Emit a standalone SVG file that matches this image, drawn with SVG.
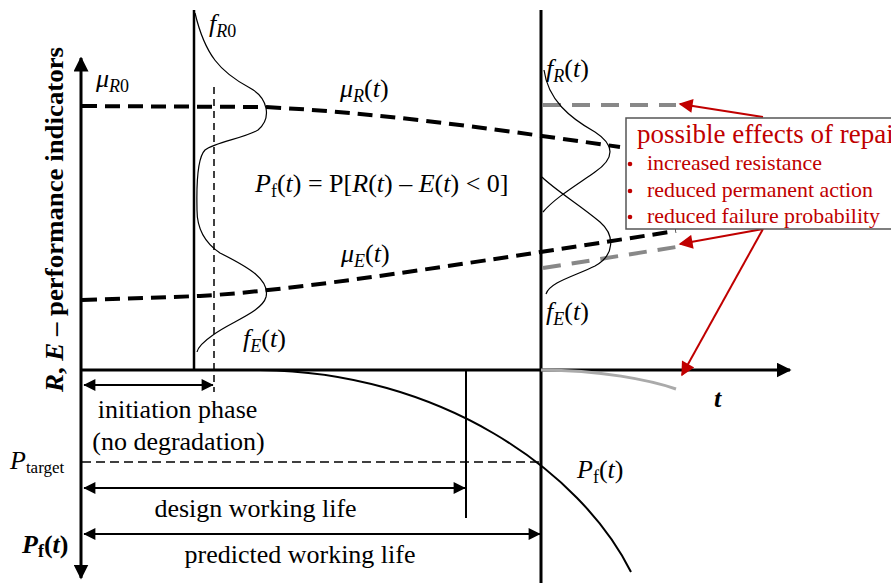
<svg xmlns="http://www.w3.org/2000/svg" width="891" height="583" viewBox="0 0 891 583" font-family="'Liberation Serif', 'DejaVu Serif', serif">
<style>
text{font-family:'Liberation Serif','DejaVu Serif',serif;fill:#000}
.lbl{font-size:26px}
.it{font-style:italic}
.sub{font-size:18px}
.red{fill:#c00000}
.ax{stroke:#000;stroke-width:3;fill:none}
.thin{stroke:#000;stroke-width:1.2;fill:none}
.dash{stroke:#000;stroke-width:4;fill:none;stroke-dasharray:15 8}
.gdash{stroke:#888;stroke-width:4;fill:none;stroke-dasharray:18 11}
.rarr{stroke:#c00000;stroke-width:2;fill:none}
.dim{stroke:#000;stroke-width:2;fill:none}
.item{font-size:22px}
</style>
<defs>
<marker id="ah" viewBox="0 0 10 10" refX="9" refY="5" markerWidth="5" markerHeight="5" orient="auto-start-reverse" markerUnits="strokeWidth"><path d="M0,0L10,5L0,10z" fill="#000"/></marker>
<marker id="dh" viewBox="0 0 10 10" refX="9.5" refY="5" markerWidth="7" markerHeight="6" orient="auto-start-reverse" markerUnits="strokeWidth"><path d="M0,0L10,5L0,10z" fill="#000"/></marker>
<marker id="rh" viewBox="0 0 10 10" refX="9" refY="5" markerWidth="8" markerHeight="7" orient="auto" markerUnits="strokeWidth"><path d="M0,0L10,5L0,10z" fill="#c00000"/></marker>
</defs>

<g id="axes">
<line class="ax" x1="81" y1="370" x2="81" y2="58" marker-end="url(#ah)"/>
<line class="ax" x1="81" y1="370" x2="81" y2="578" marker-end="url(#ah)"/>
<line class="ax" x1="80" y1="370" x2="790" y2="370" marker-end="url(#ah)"/>
<line class="ax" x1="194" y1="10" x2="194" y2="370" style="stroke-width:2.5"/>
<line class="ax" x1="541" y1="10" x2="541" y2="583"/>
<line class="dim" x1="466" y1="370" x2="466" y2="518"/>
<line class="thin" x1="214" y1="87" x2="214" y2="392" style="stroke-dasharray:7 5;stroke-width:1.5"/>
</g>

<g id="connectors">
<path class="dash" d="M82,106 L265,107 C380,113 480,127 620,147"/>
<path class="dash" d="M82,300 L200,296 C300,290 450,266 676,231"/>
<path class="gdash" d="M543,105 L676,105"/>
<path class="gdash" d="M543,268 L676,247"/>
<path d="M541,370 C600,370 650,380 676,389" stroke="#aaa" stroke-width="3" fill="none"/>
<path class="dim" d="M260,370 C440,372 580,470 631,572"/>
<line x1="82" y1="462" x2="541" y2="462" stroke="#000" stroke-width="1.5" stroke-dasharray="9 5"/>
<line class="dim" x1="84" y1="385" x2="213" y2="385" marker-start="url(#dh)" marker-end="url(#dh)"/>
<line class="dim" x1="84" y1="488" x2="465" y2="488" marker-start="url(#dh)" marker-end="url(#dh)"/>
<line class="dim" x1="84" y1="534" x2="540" y2="534" marker-start="url(#dh)" marker-end="url(#dh)"/>
<line class="rarr" x1="763" y1="117" x2="680" y2="104" marker-end="url(#rh)"/>
<line class="rarr" x1="763" y1="229" x2="680" y2="244" marker-end="url(#rh)"/>
<line class="rarr" x1="763" y1="229" x2="682" y2="375" marker-end="url(#rh)"/>
</g>

<g id="distributions">
<path class="thin" d="M195,13 C205,55 220,72 250,88 C268,98 272,118 258,130 C245,138 215,142 205,150 C195,160 197,200 197,210 C197,230 205,243 220,253 C250,268 270,280 266,297 C262,312 230,322 213,335 C203,342 198,347 197,352"/>
<path class="thin" d="M544,70 C548,100 570,118 595,132 C615,145 615,158 595,172 C575,186 555,198 543,212"/>
<path class="thin" d="M542,177 C555,190 580,205 600,222 C615,235 615,255 595,266 C575,276 550,282 546,294"/>
</g>

<g id="repair-box">
<rect x="626" y="118" width="280" height="111" fill="#fff" stroke="#555" stroke-width="1.5"/>
<text x="637" y="143" class="red" style="font-size:27px">possible effects of repair</text>
<circle cx="630" cy="164" r="2.3" fill="#c00000"/>
<circle cx="630" cy="191" r="2.3" fill="#c00000"/>
<circle cx="630" cy="217" r="2.3" fill="#c00000"/>
<text x="647" y="170" class="red item" textLength="175" lengthAdjust="spacingAndGlyphs">increased resistance</text>
<text x="647" y="197" class="red item" textLength="226" lengthAdjust="spacingAndGlyphs">reduced permanent action</text>
<text x="647" y="223" class="red item" textLength="233" lengthAdjust="spacingAndGlyphs">reduced failure probability</text>
</g>

<g id="labels">
<text transform="translate(63,219.5) rotate(-90)" text-anchor="middle" style="font-size:26px;font-weight:bold" textLength="345" lengthAdjust="spacingAndGlyphs"><tspan font-style="italic">R</tspan>, <tspan font-style="italic">E</tspan> – performance indicators</text>
<text x="209" y="32" class="lbl it">f<tspan class="sub" dy="5">R</tspan><tspan class="sub" font-style="normal">0</tspan></text>
<text x="96" y="87" class="lbl it">μ<tspan class="sub" dy="5">R</tspan><tspan class="sub" font-style="normal">0</tspan></text>
<text x="340" y="97" class="lbl it">μ<tspan class="sub" dy="5">R</tspan><tspan dy="-5" font-style="normal">(</tspan>t<tspan font-style="normal">)</tspan></text>
<text x="255" y="192" class="lbl"><tspan class="it">P</tspan><tspan class="sub" dy="5">f</tspan><tspan dy="-5">(</tspan><tspan class="it">t</tspan>) = P[<tspan class="it">R</tspan>(<tspan class="it">t</tspan>) – <tspan class="it">E</tspan>(<tspan class="it">t</tspan>) &lt; 0]</text>
<text x="341" y="262" class="lbl it">μ<tspan class="sub" dy="5">E</tspan><tspan dy="-5" font-style="normal">(</tspan>t<tspan font-style="normal">)</tspan></text>
<text x="243" y="347" class="lbl it">f<tspan class="sub" dy="5">E</tspan><tspan dy="-5" font-style="normal">(</tspan>t<tspan font-style="normal">)</tspan></text>
<text x="546" y="77" class="lbl it">f<tspan class="sub" dy="5">R</tspan><tspan dy="-5" font-style="normal">(</tspan>t<tspan font-style="normal">)</tspan></text>
<text x="546" y="320" class="lbl it">f<tspan class="sub" dy="5">E</tspan><tspan dy="-5" font-style="normal">(</tspan>t<tspan font-style="normal">)</tspan></text>
<text x="577" y="478" class="lbl"><tspan class="it">P</tspan><tspan class="sub" dy="5">f</tspan><tspan dy="-5">(</tspan><tspan class="it">t</tspan>)</text>
<text x="714" y="407" style="font-size:26px;font-weight:bold;font-style:italic">t</text>
<text x="177.5" y="418" class="lbl" text-anchor="middle">initiation phase</text>
<text x="178.5" y="450" class="lbl" text-anchor="middle">(no degradation)</text>
<text x="255.5" y="517" class="lbl" text-anchor="middle">design working life</text>
<text x="300" y="563" class="lbl" text-anchor="middle">predicted working life</text>
<text x="10" y="469" class="lbl it">P<tspan font-size="17" font-style="normal" dy="4">target</tspan></text>
<text x="22" y="553" style="font-size:26px;font-weight:bold;font-style:italic">P<tspan style="font-size:18px;font-style:normal" dy="4">f</tspan><tspan dy="-4" font-style="normal">(</tspan>t<tspan font-style="normal">)</tspan></text>
</g>
</svg>
